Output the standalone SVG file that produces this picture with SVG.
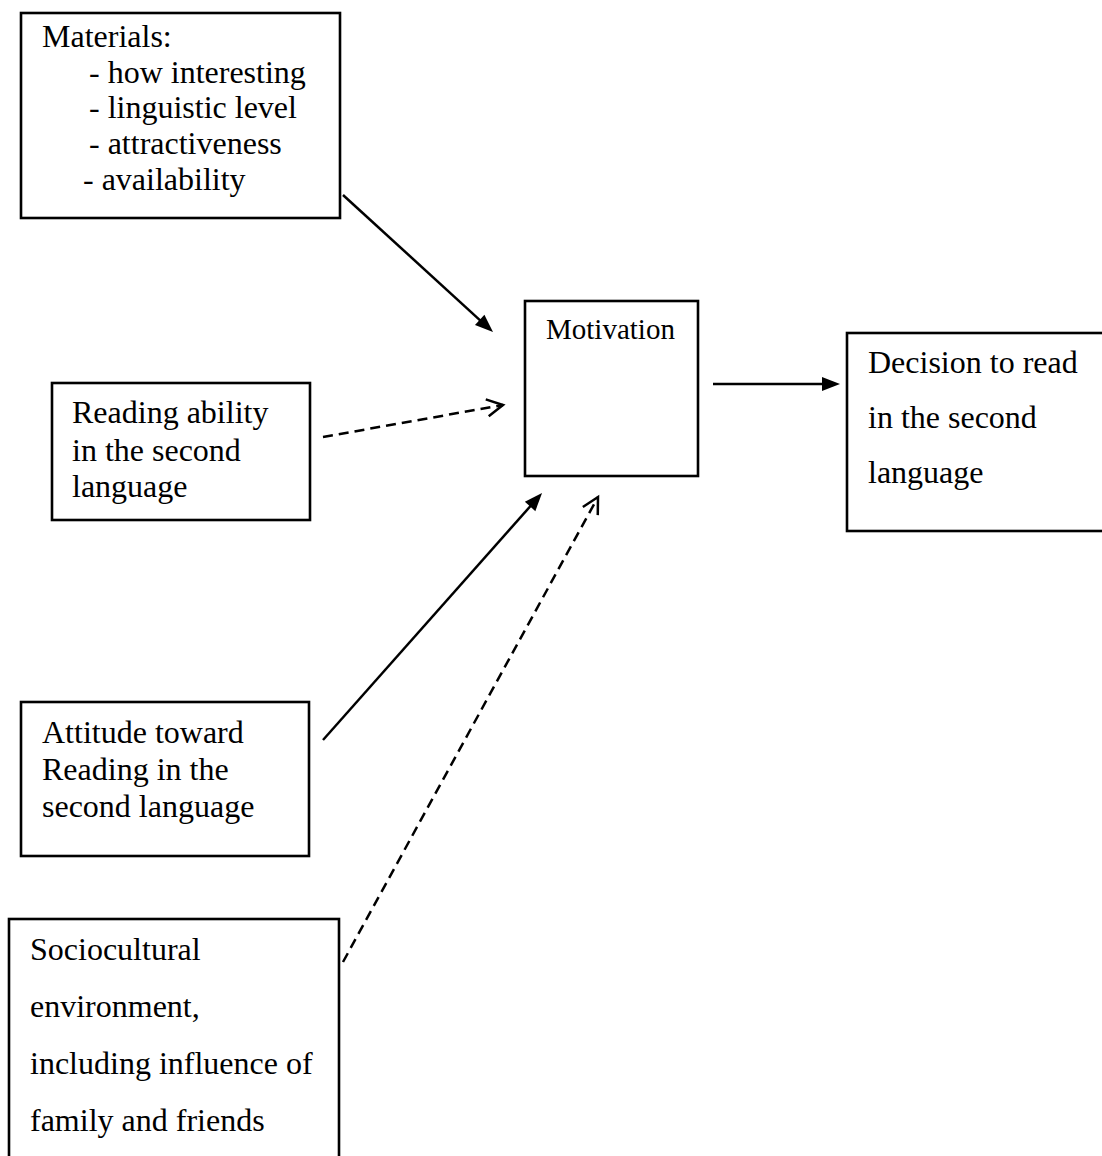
<svg xmlns="http://www.w3.org/2000/svg" width="1102" height="1156" viewBox="0 0 1102 1156">
<style>
.box{fill:#fff;stroke:#000;stroke-width:2.6}
.t{font-family:"Liberation Serif","Times New Roman",serif;font-size:32px;fill:#000}
.conn{stroke:#000;stroke-width:2.5;fill:none}
.dash{stroke-dasharray:10,6}
</style>
<defs>
<marker id="fill" markerUnits="userSpaceOnUse" markerWidth="20" markerHeight="16" refX="8" refY="7" orient="auto" overflow="visible">
<path d="M0,0 L18,7 L0,14 Z" fill="#000"/>
</marker>
<marker id="open" markerUnits="userSpaceOnUse" markerWidth="20" markerHeight="16" refX="17" refY="7" orient="auto" overflow="visible">
<path d="M1,-1.5 L17,7 L1,15.5" fill="none" stroke="#000" stroke-width="2.5"/>
</marker>
</defs>
<g id="materials">
<rect class="box" x="21" y="13" width="319" height="205"/>
<text class="t" x="42" y="47">Materials:</text>
<text class="t" x="89" y="83">- how interesting</text>
<text class="t" x="89" y="118">- linguistic level</text>
<text class="t" x="89" y="154">- attractiveness</text>
<text class="t" x="83" y="190">- availability</text>
</g>
<g id="reading">
<rect class="box" x="52" y="383" width="258" height="137"/>
<text class="t" x="72" y="423">Reading ability</text>
<text class="t" x="72" y="461">in the second</text>
<text class="t" x="72" y="497">language</text>
</g>
<g id="attitude">
<rect class="box" x="21" y="702" width="288" height="154"/>
<text class="t" x="42" y="743">Attitude toward</text>
<text class="t" x="42" y="780">Reading in the</text>
<text class="t" x="42" y="817">second language</text>
</g>
<g id="sociocultural">
<rect class="box" x="9" y="919" width="330" height="260"/>
<text class="t" x="30" y="960">Sociocultural</text>
<text class="t" x="30" y="1017">environment,</text>
<text class="t" x="30" y="1074">including influence of</text>
<text class="t" x="30" y="1131">family and friends</text>
</g>
<g id="motivation">
<rect class="box" x="525" y="301" width="173" height="175"/>
<text class="t" x="546" y="339" style="font-size:29px">Motivation</text>
</g>
<g id="decision">
<rect class="box" x="847" y="333" width="270" height="198"/>
<text class="t" x="868" y="373">Decision to read</text>
<text class="t" x="868" y="428">in the second</text>
<text class="t" x="868" y="483">language</text>
</g>
<g id="connectors">
<line class="conn" x1="343" y1="195" x2="485.6" y2="325.3" marker-end="url(#fill)"/>
<line class="conn dash" x1="323" y1="437" x2="503" y2="405" marker-end="url(#open)"/>
<line class="conn" x1="713" y1="384" x2="830" y2="384" marker-end="url(#fill)"/>
<line class="conn" x1="323" y1="740" x2="535.4" y2="500.5" marker-end="url(#fill)"/>
<line class="conn dash" x1="343" y1="962" x2="598" y2="497" marker-end="url(#open)"/>
</g>
</svg>
